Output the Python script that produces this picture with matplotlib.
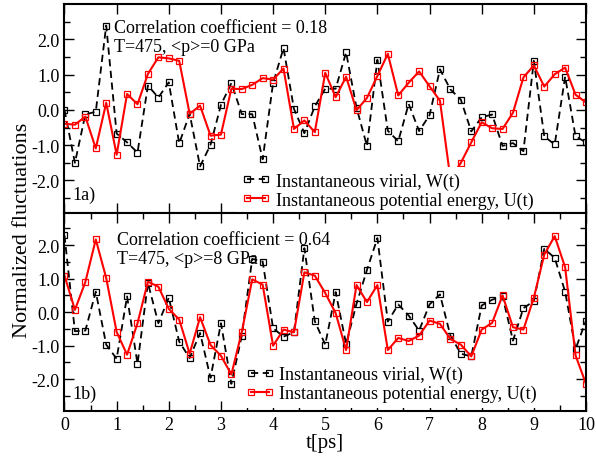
import matplotlib
matplotlib.use("Agg")
import matplotlib.pyplot as plt
from matplotlib.ticker import MultipleLocator, FixedLocator, FormatStrFormatter
import numpy as np

plt.rcParams['font.family'] = ['Liberation Serif', 'DejaVu Serif']
plt.rcParams['mathtext.fontset'] = 'stix'

# time axis, one point every 0.2 ps
t = np.round(np.arange(0, 10.01, 0.2), 1)

# panel 1a: <p> = 0 GPa
w_a = [0.0, -1.5, -0.13, -0.05, 2.39, -0.67, -0.92, -1.21, 0.69, 0.35,
       0.78, -0.95, -0.11, -1.6, -0.99, 0.14, 0.76, -0.12, -0.12, -1.40,
       0.76, 1.75, 0.03, -0.66, 0.10, 0.6, 0.6, 1.63, 0.06, -1.02,
       1.42, -0.59, -0.89, 0.17, -0.6, -0.15, 1.15, 0.58, 0.29, -0.61,
       -0.21, -0.13, -1.02, -0.94, -1.17, 1.39, -0.75, -0.98, 0.94, -0.75,
       -0.92]
u_a = [-0.39, -0.42, -0.19, -1.09, 0.2, -1.27, 0.45, 0.16, 1.02, 1.49,
       1.46, 1.39, -0.11, 0.12, -0.73, -0.7, 0.6, 0.59, 0.71, 0.9,
       0.86, 1.17, -0.54, -0.3, -0.63, 1.05, 0.36, 0.94, -0.01, 0.34,
       0.96, 1.59, 0.41, 0.77, 1.09, 0.67, 0.26, -1.95, -1.5, -0.92,
       -0.35, -0.52, -0.54, -0.08, 0.92, 1.26, 0.66, 1.01, 1.2, 0.43,
       0.21]

# panel 1b: <p> = 8 GPa
w_b = [2.29, -0.57, -0.55, 0.61, -0.97, -1.39, 0.47, -1.54, 0.87, -0.33,
       0.43, -0.88, -1.37, -0.62, -1.96, -0.33, -2.14, -0.7, 1.59, 1.51,
       -0.48, -0.73, -0.6, 1.91, -0.27, -0.97, 0.6, -0.95, 0.25, 1.26,
       2.21, -0.28, 0.23, -0.1, -0.55, 0.23, 0.53, -0.7, -1.24, -1.32,
       0.2, 0.37, 0.47, -0.85, 0.12, 0.33, 1.89, 1.62, 0.61, -1.1,
       -0.25]
u_b = [1.09, 0.07, 0.9, 2.17, 1.02, -0.59, -1.27, -0.33, 0.91, 0.76,
       0.1, -0.22, -1.24, -0.15, -0.98, -1.3, -1.86, -0.59, 0.98, 0.82,
       -1.0, -0.52, -0.6, 1.19, 1.09, 0.57, -0.03, -1.13, 0.81, 0.3,
       0.81, -1.13, -0.77, -0.86, -0.7, -0.25, -0.35, -0.8, -0.97, -1.32,
       -0.52, -0.32, 0.5, -0.45, -0.52, 0.43, 1.72, 2.27, 1.34, -1.29,
       -2.14]

y_major = [-2, -1, 0, 1, 2]
y_minor = [-2.5, -1.5, -0.5, 0.5, 1.5, 2.5]

fig = plt.figure(figsize=(5.96, 4.60), dpi=100)
ax1 = fig.add_axes([0.1082, 0.5341, 0.875, 0.455])
ax2 = fig.add_axes([0.1082, 0.1043, 0.875, 0.4298])

fs = 13
panels = [
    (ax1, w_a, u_a, (-2.93, 3.0), "Correlation coefficient = 0.18",
     "T=475, <p>=0 GPa", "1a)", (0.329, 0.222), (0.095, 0.927, 0.836)),
    (ax2, w_b, u_b, (-2.95, 2.95), "Correlation coefficient = 0.64",
     "T=475, <p>=8 GPa", "1b)", (0.336, 0.255), (0.1, 0.909, 0.813)),
]

for ax, w, u, ylim, txt1, txt2, tag, legpos, tpos in panels:
    ax.plot(t, w, color='black', lw=1.3, dashes=(4, 2.5), marker='s',
            ms=5, mfc='none', mec='black', mew=0.9,
            label='Instantaneous virial, W(t)')
    ax.plot(t, u, color='red', lw=1.5, marker='s', ms=5, mfc='none',
            mec='red', mew=0.9,
            label='Instantaneous potential energy, U(t)')
    ax.set_xlim(0, 10)
    ax.set_ylim(*ylim)
    ax.xaxis.set_major_locator(MultipleLocator(1))
    ax.yaxis.set_major_locator(FixedLocator(y_major))
    ax.yaxis.set_minor_locator(FixedLocator(y_minor))
    ax.yaxis.set_major_formatter(FormatStrFormatter('%.1f'))
    ax.tick_params(which='both', direction='in', top=True, right=True,
                   labelsize=fs)
    ax.tick_params(which='major', length=7, width=1)
    ax.tick_params(which='minor', length=4, width=1)
    for s in ax.spines.values():
        s.set_linewidth(1.5)
    ax.text(tpos[0], tpos[1], txt1, transform=ax.transAxes, fontsize=fs,
            va='top', ha='left')
    ax.text(tpos[0], tpos[2], txt2, transform=ax.transAxes, fontsize=fs,
            va='top', ha='left')
    ax.text(0.016, 0.09, tag, transform=ax.transAxes, fontsize=fs,
            va='center', ha='left')
    leg = ax.legend(loc='upper left', bbox_to_anchor=legpos,
                    borderaxespad=0, frameon=True, fontsize=fs,
                    handlelength=1.6, handletextpad=0.3, labelspacing=0.1,
                    borderpad=0.3, numpoints=2, fancybox=False)
    leg.get_frame().set_edgecolor('none')
    leg.get_frame().set_facecolor('white')
    leg.get_frame().set_alpha(1)

ax1.tick_params(labelbottom=False)
ax2.xaxis.set_minor_locator(MultipleLocator(0.5))
ax2.set_xlabel('t[ps]', fontsize=15, labelpad=0)
fig.text(0.037, 0.5, 'Normalized fluctuations', rotation=90,
         fontsize=16, va='center', ha='center')

fig.savefig('out.png', dpi=100)
